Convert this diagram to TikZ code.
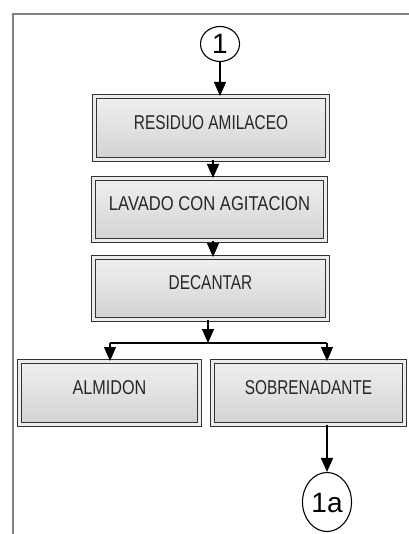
\documentclass[tikz,border=0pt]{standalone}
\usepackage{fontspec}
\usepackage{graphicx}
\setmainfont{Liberation Sans}
\usetikzlibrary{arrows.meta,shapes.geometric}
\begin{document}
\begin{tikzpicture}[x=1pt,y=-1pt,
  pbox/.style={draw=black!80, line width=1pt, double=gray!15, double distance=3pt,
    top color=gray!12, middle color=white, bottom color=gray!35,
    inner sep=0pt, text height=11pt, text depth=8.7pt,
    font=\fontsize{20}{20}\selectfont, text=black!85},
  conn/.style={ellipse, draw=black, line width=1.1pt, inner sep=0pt,
    text height=20pt, text depth=0pt, font=\fontsize{28}{28}\selectfont},
  arr/.style={line width=1.1pt, -{Triangle[length=14pt,width=12pt]}},
  frame/.style={draw=gray, line width=2pt},
]
\useasboundingbox (0,0) rectangle (408,534);
\draw[frame] (13,536) -- (13,14) -- (410,14);

\node[conn, minimum width=39pt, minimum height=35pt] (c1) at (220,44) {1};
\node[pbox, minimum width=233pt, minimum height=63pt] (res) at (211,128) {\scalebox{0.77}[1]{RESIDUO AMILACEO}};
\node[pbox, minimum width=232pt, minimum height=62pt] (lav) at (209.5,209.5) {\scalebox{0.83}[1]{LAVADO CON AGITACION}};
\node[pbox, minimum width=234pt, minimum height=62pt] (dec) at (210.5,288.5) {\scalebox{0.77}[1]{DECANTAR}};
\node[pbox, minimum width=180pt, minimum height=63pt] (alm) at (109.5,393) {\scalebox{0.81}[1]{ALMIDON}};
\node[pbox, minimum width=192pt, minimum height=63pt] (sob) at (308.5,393) {\scalebox{0.77}[1]{SOBRENADANTE}};
\node[conn, minimum width=49pt, minimum height=59pt] (c1a) at (327,502) {1a};

\coordinate (split) at (208,343);
\coordinate (bl) at (110,343);
\coordinate (br) at (327,343);

\draw[arr] (c1.south) -- (c1.south |- res.north);
\draw[arr] (res.south -| 213,0) -- (lav.north -| 213,0);
\draw[arr] (lav.south -| 213,0) -- (dec.north -| 213,0);
\draw[arr] (dec.south -| split) -- (split);
\draw[line width=1.1pt] (bl) -- (br);
\draw[arr] (bl) -- (alm.north -| bl);
\draw[arr] (br) -- (sob.north -| br);
\draw[arr, line width=1.6pt] (sob.south -| c1a) -- (c1a.north);
\end{tikzpicture}
\end{document}
